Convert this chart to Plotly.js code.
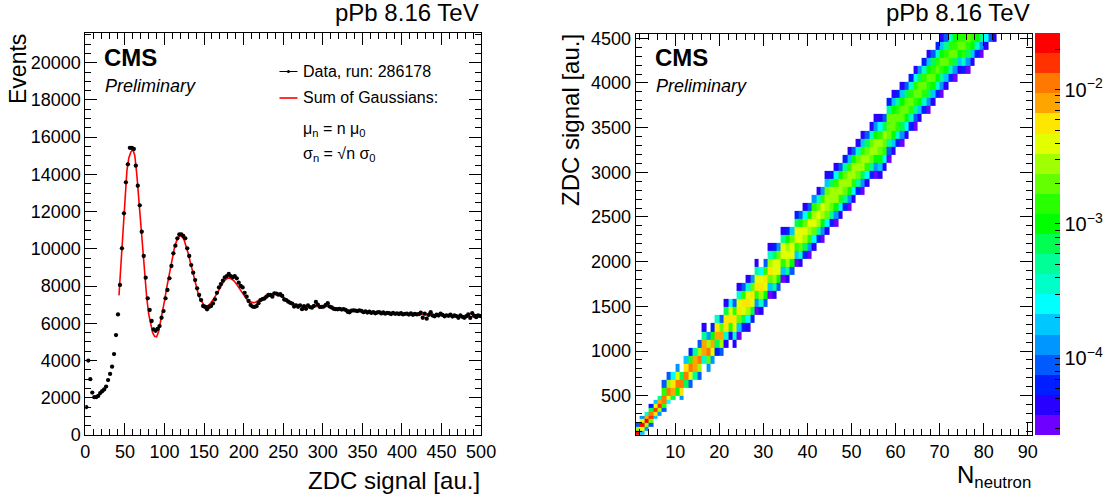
<!DOCTYPE html>
<html><head><meta charset="utf-8">
<script src="https://cdn.plot.ly/plotly-3.0.1.min.js"></script>
<style>html,body{margin:0;padding:0;background:#fff;}#plot{width:1108px;height:497px;}</style>
</head><body><div id="plot"></div>
<script>
// ---------- LEFT PANEL DATA ----------
const zdcBinCenters = [1.25,3.75,6.25,8.75,11.25,13.75,16.25,18.75,21.25,23.75,26.25,28.75,31.25,33.75,36.25,38.75,41.25,43.75,46.25,48.75,
51.25,53.75,56.25,58.75,61.25,63.75,66.25,68.75,71.25,73.75,76.25,78.75,81.25,83.75,86.25,88.75,91.25,93.75,96.25,98.75,
101.25,103.75,106.25,108.75,111.25,113.75,116.25,118.75,121.25,123.75,126.25,128.75,131.25,133.75,136.25,138.75,141.25,143.75,146.25,148.75,
151.25,153.75,156.25,158.75,161.25,163.75,166.25,168.75,171.25,173.75,176.25,178.75,181.25,183.75,186.25,188.75,191.25,193.75,196.25,198.75,
201.25,203.75,206.25,208.75,211.25,213.75,216.25,218.75,221.25,223.75,226.25,228.75,231.25,233.75,236.25,238.75,241.25,243.75,246.25,248.75,
251.25,253.75,256.25,258.75,261.25,263.75,266.25,268.75,271.25,273.75,276.25,278.75,281.25,283.75,286.25,288.75,291.25,293.75,296.25,298.75,
301.25,303.75,306.25,308.75,311.25,313.75,316.25,318.75,321.25,323.75,326.25,328.75,331.25,333.75,336.25,338.75,341.25,343.75,346.25,348.75,
351.25,353.75,356.25,358.75,361.25,363.75,366.25,368.75,371.25,373.75,376.25,378.75,381.25,383.75,386.25,388.75,391.25,393.75,396.25,398.75,
401.25,403.75,406.25,408.75,411.25,413.75,416.25,418.75,421.25,423.75,426.25,428.75,431.25,433.75,436.25,438.75,441.25,443.75,446.25,448.75,
451.25,453.75,456.25,458.75,461.25,463.75,466.25,468.75,471.25,473.75,476.25,478.75,481.25,483.75,486.25,488.75,491.25,493.75,496.25,498.75];
const zdcEvents = [1500,4000,3000,2280,2030,2030,2100,2250,2350,2450,2600,2950,3280,3670,4350,5370,6480,8060,10030,11910,
13575,14540,15430,15430,15365,14470,13390,12340,10920,9615,8450,7340,6715,6125,5675,5600,5700,5850,6300,6660,
7340,7790,8415,9080,9760,10170,10565,10780,10780,10690,10565,10030,9615,9130,8720,8325,7880,7520,7250,6930,
6880,6750,6880,6930,7070,7290,7640,7930,8110,8290,8470,8540,8650,8540,8470,8540,8415,8185,8005,7930,
7640,7430,7200,6985,6900,6880,6920,7080,7250,7300,7330,7430,7520,7520,7430,7610,7600,7540,7560,7470,
7280,7250,7160,7100,7060,6900,6960,6890,6960,6760,6920,6780,6960,6870,6840,6930,7150,7000,6880,6880,
6900,6990,7080,6900,6850,6780,6760,6750,6780,6740,6760,6720,6620,6590,6680,6700,6680,6660,6700,6670,
6600,6640,6580,6620,6560,6600,6540,6580,6600,6530,6580,6520,6560,6540,6500,6560,6510,6530,6500,6540,
6480,6510,6520,6470,6530,6460,6500,6480,6490,6570,6300,6520,6250,6450,6600,6420,6380,6460,6420,6520,
6450,6380,6430,6400,6470,6360,6420,6390,6300,6420,6350,6300,6380,6480,6290,6540,6400,6330,6420,6390];
const fitSignal = [42.5,45,47.5,50,52.5,55,57.5,60,62.5,65,67.5,70,72.5,75,77.5,80,82.5,85,87.5,90,
92.5,95,97.5,100,102.5,105,107.5,110,112.5,115,117.5,120,122.5,125,127.5,130,132.5,135,137.5,140,
142.5,145,147.5,150,152.5,155,157.5,160,162.5,165,167.5,170,172.5,175,177.5,180,182.5,185,187.5,190,
192.5,195,197.5,200,202.5,205,207.5,210,212.5,215,217.5,220,222.5,225,227.5,230,232.5,235,237.5,240,
242.5,245,247.5,250,255,260,265,270,275,280,285,290,295,300,305,310,315,320,325,330,335,340,345,350,
355,360,365,370,375,380,385,390,395,400,405,410,415,420,425,430,435,440,445,450,455,460,465,470,475,
480,485,490,495,500];
const fitEvents = [7500,9300,11200,12900,14200,14900,15200,15350,15000,14000,12700,11300,9900,8500,7400,6500,5900,5500,5300,5270,
5550,6050,6600,7200,7850,8450,9050,9600,10050,10400,10620,10700,10650,10450,10150,9750,9300,8850,8400,7950,
7600,7300,7100,6980,6940,6960,7040,7170,7330,7520,7720,7920,8100,8250,8360,8420,8430,8380,8290,8160,
8000,7830,7650,7480,7330,7230,7160,7120,7110,7130,7180,7250,7320,7390,7450,7490,7530,7550,7560,7560,
7540,7500,7450,7390,7260,7130,7030,6960,6920,6900,6900,6910,6920,6920,6910,6880,6840,6800,6760,6720,
6690,6670,6650,6630,6610,6600,6590,6580,6570,6550,6540,6530,6520,6510,6500,6490,6480,6470,6460,6450,
6440,6430,6420,6410,6400,6390,6380,6370,6360,6350,6350,6340,6350,6370];

// ---------- RIGHT PANEL DATA ----------
const nNeutronEdges = [1,2,3,4,5,6,7,8,9,10,11,12,13,14,15,16,17,18,19,20,21,22,23,24,25,26,27,28,29,30,
31,32,33,34,35,36,37,38,39,40,41,42,43,44,45,46,47,48,49,50,51,52,53,54,55,56,57,58,59,60,
61,62,63,64,65,66,67,68,69,70,71,72,73,74,75,76,77,78,79,80,81,82,83,84,85,86,87,88,89,90,91];
const zdcSignalEdges = [60,104,148,192,236,280,324,368,412,456,500,590,680,770,860,950,1040,1130,1220,1310,
1400,1490,1580,1670,1760,1850,1940,2030,2120,2210,2300,2390,2480,2570,2660,2750,2840,2930,3020,3110,
3200,3290,3380,3470,3560,3650,3740,3830,3920,4010,4100,4190,4280,4370,4460,4550];
// first filled signal bin of each N column (N = 1..82)
const columnFirstBin = [0,0,1,2,4,5,6,8,9,10,9,11,11,12,12,14,13,14,15,15,
16,17,16,17,18,18,19,20,20,21,22,22,23,24,24,25,26,26,27,27,
28,29,29,30,31,31,32,33,33,34,35,35,36,37,37,37,38,39,40,41,
41,42,43,43,44,45,45,46,47,47,48,49,49,50,50,50,51,52,52,53,54,54];
// colour level (0 = lowest band, 19 = highest band) of each filled bin, bottom to top
const columnLevels = [
[19,13,3],[5,14,19,14,4],[4,13,19,16,7],[3,12,18,17,9,2],[5,15,18,14,5],[4,13,18,16,8],[3,11,17,17,11,3],[6,14,17,13,3],[9,16,15,6],[10,17,14,4],
[4,15,17,9],[9,17,15,5],[3,14,17,11,2],[8,16,16,8],[3,13,17,13,3],[7,16,16,8,1],[4,12,17,13,4],[4,14,16,10,2],[2,9,16,15,7],[3,13,16,12,3],
[1,7,15,15,9,1],[1,11,15,14,6],[1,7,14,15,11,3],[0,5,12,15,14,7,1],[2,9,14,15,11,3],[1,6,13,15,14,7,1],[2,9,14,15,12,4],[0,4,11,15,14,8,1],[1,7,13,15,14,6],[3,10,14,15,11,3],
[0,5,12,15,13,7,1],[1,8,13,14,14,9,2],[3,10,14,14,12,4],[0,5,11,14,14,8,1],[1,8,13,14,13,10,2],[3,10,14,14,12,5],[0,5,11,14,14,9,2],[1,7,12,14,14,10,3],[2,9,13,14,12,6,1],[0,4,11,13,14,10,3],
[1,6,12,14,13,11,4],[2,8,13,14,12,7,1],[0,4,10,13,14,11,4],[1,6,12,13,13,12,5,1],[2,8,12,13,13,9,2],[0,4,10,13,13,11,6,1],[1,6,11,13,13,10,3],[2,8,12,13,12,8,2],[0,4,10,13,13,11,5,1],[1,6,11,13,13,10,3],
[2,8,12,13,12,7,1],[0,4,9,13,13,11,5,1],[1,6,11,13,12,9,3],[2,8,12,13,12,7,1],[0,4,10,13,13,10,4,1],[1,5,10,12,13,11,6,1],[1,6,11,12,13,9,3],[0,3,8,12,12,12,8,2],[1,5,10,12,12,10,5,1],[2,7,11,12,11,8,2],
[0,4,9,12,12,10,5,1],[1,6,10,12,12,9,3],[2,7,11,12,11,7,2],[0,3,8,11,12,11,6,1],[1,5,10,12,12,9,4],[2,7,11,12,11,7,2],[0,4,9,11,12,10,5,1],[1,5,10,12,11,9,3],[2,7,10,12,11,7,2],[0,4,8,11,12,10,5,1],
[1,5,10,12,11,8,3],[2,7,11,12,11,7],[0,4,9,12,11,10],[1,5,10,12,11],[2,7,11,12,11],[0,4,9,11,12],[1,5,10,11],[2,7,10],[0,4,8],[1,6],
[3],[1]];
const paletteColors = ['rgb(110,0,255)','rgb(40,0,255)','rgb(0,30,255)','rgb(0,90,255)','rgb(0,150,255)','rgb(0,200,255)','rgb(0,255,255)','rgb(0,255,200)','rgb(0,255,150)','rgb(0,255,80)',
'rgb(0,255,0)','rgb(40,255,0)','rgb(100,255,0)','rgb(160,255,0)','rgb(225,255,0)','rgb(255,230,0)','rgb(255,165,0)','rgb(255,120,0)','rgb(255,50,0)','rgb(255,0,0)'];
const log10Min = -4.57, log10Max = -1.579;
const colorbarDecades = [-4,-3,-2];

// ---------- BUILD ----------
const W = 1108, H = 497;
const FONT = 'Liberation Sans, Arial, Helvetica, sans-serif';
const px = p => p / W, py = p => 1 - p / H;

const nCols = nNeutronEdges.length - 1, nRows = zdcSignalEdges.length - 1;
const step = (log10Max - log10Min) / paletteColors.length;
const zGrid = [];
for (let r = 0; r < nRows; r++) zGrid.push(new Array(nCols).fill(null));
columnLevels.forEach((lv, c) => {
  lv.forEach((L, j) => {
    const r = columnFirstBin[c] + j;
    if (r < nRows) zGrid[r][c] = log10Min + (L + 0.5) * step;
  });
});
const colorscale = [];
paletteColors.forEach((c, i) => {
  colorscale.push([i / paletteColors.length, c]);
  colorscale.push([(i + 1) / paletteColors.length, c]);
});
const cbVals = [], cbText = [];
colorbarDecades.concat([-5]).forEach(d => {
  for (let m = 1; m <= 9; m++) {
    const v = d + Math.log10(m);
    if (v >= log10Min && v <= log10Max) {
      cbVals.push(v);
      cbText.push(m === 1 ? '10<sup>\u2212' + (-d) + '</sup>' : '');
    }
  }
});

const traces = [
  {type:'scatter', mode:'lines', x:fitSignal, y:fitEvents, xaxis:'x', yaxis:'y',
   line:{color:'#ff0000', width:1.6}, hoverinfo:'skip', showlegend:false},
  {type:'scatter', mode:'markers', x:zdcBinCenters, y:zdcEvents, xaxis:'x', yaxis:'y',
   marker:{color:'#000', size:4.3}, hoverinfo:'skip', showlegend:false},
  {type:'heatmap', x:nNeutronEdges, y:zdcSignalEdges, z:zGrid, xaxis:'x2', yaxis:'y2',
   zmin:log10Min, zmax:log10Max, zauto:false, colorscale:colorscale, hoverinfo:'skip', xgap:0, ygap:0,
   colorbar:{x:px(1036.7), xanchor:'left', y:py(435), yanchor:'bottom', len:402/H, lenmode:'fraction',
     thickness:25.3, thicknessmode:'pixels', xpad:0, ypad:0, outlinewidth:0,
     tickmode:'array', tickvals:cbVals, ticktext:cbText, ticks:'inside', ticklen:5, tickwidth:1, tickcolor:'#000',
     tickfont:{family:FONT, size:20, color:'#000'}}}
];

function axis(domain, range, dtick, minorDtick, anchor, extra) {
  return Object.assign({domain:domain, range:range, tick0:0, dtick:dtick, ticks:'inside', ticklen:12, tickwidth:1, tickcolor:'#000',
    minor:{dtick:minorDtick, tick0:0, ticks:'inside', ticklen:6, tickwidth:1, tickcolor:'#000', showgrid:false},
    showline:true, linecolor:'#000', linewidth:1, mirror:'ticks', showgrid:false, zeroline:false, tickformat:'d',
    tickfont:{family:FONT, size:18, color:'#000'}, anchor:anchor, fixedrange:true, automargin:false}, extra || {});
}

const shapes = [];
shapes.push({type:'line', xref:'paper', yref:'paper', x0:px(280), x1:px(298), y0:py(71.5), y1:py(71.5), line:{color:'#000', width:1}});
shapes.push({type:'circle', xref:'paper', yref:'paper', x0:px(287.5), x1:px(290.5), y0:py(70), y1:py(73), fillcolor:'#000', line:{color:'#000', width:0}});
shapes.push({type:'line', xref:'paper', yref:'paper', x0:px(280), x1:px(298), y0:py(98), y1:py(98), line:{color:'#ff0000', width:1.6}});
colorbarDecades.forEach(d => {
  const yy = 435 - (d - log10Min) / (log10Max - log10Min) * 402;
  shapes.push({type:'line', xref:'paper', yref:'paper', x0:px(1050), x1:px(1062), y0:py(yy), y1:py(yy), line:{color:'#000', width:1}});
});

function ann(text, x, y, size, opts) {
  return Object.assign({text:text, x:px(x), y:py(y), xref:'paper', yref:'paper', showarrow:false,
    xanchor:'left', yanchor:'middle', font:{family:FONT, size:size, color:'#000'}}, opts || {});
}
const annotations = [
  ann('pPb 8.16 TeV', 482, 12, 24, {xanchor:'right'}),
  ann('pPb 8.16 TeV', 1034, 12, 24, {xanchor:'right'}),
  ann('<b>CMS</b>', 102, 58, 24),
  ann('<i>Preliminary</i>', 103, 86, 18),
  ann('<b>CMS</b>', 654, 58, 24),
  ann('<i>Preliminary</i>', 655, 86, 18),
  ann('Data, run: 286178', 302, 71.5, 16),
  ann('Sum of Gaussians:', 302, 98, 16),
  ann('\u03bc<sub>n</sub> = n \u03bc<sub>0</sub>', 302, 130, 16),
  ann('\u03c3<sub>n</sub> = \u221an \u03c3<sub>0</sub>', 302, 155, 16),
  ann('Events', 18, 69, 23, {xanchor:'center', textangle:-90}),
  ann('ZDC signal [au.]', 483, 480, 24, {xanchor:'right'}),
  ann('ZDC signal [au.]', 571, 120, 24, {xanchor:'center', textangle:-90}),
  ann('N<sub>neutron</sub>', 1035, 476, 24, {xanchor:'right'})
];

const layout = {
  width:W, height:H, margin:{l:0, r:0, t:0, b:0}, paper_bgcolor:'#fff', plot_bgcolor:'#fff', showlegend:false,
  xaxis: axis([px(85.5), px(482)], [0, 500], 50, 10, 'y'),
  yaxis: axis([py(435), py(33.3)], [0, 21580], 2000, 500, 'x'),
  xaxis2: axis([px(636.7), px(1034)], [1, 91], 10, 2, 'y2'),
  yaxis2: axis([py(435), py(34)], [60, 4548], 500, 100, 'x2'),
  shapes: shapes, annotations: annotations
};
Plotly.newPlot('plot', traces, layout, {staticPlot:true, displayModeBar:false});
</script></body></html>
